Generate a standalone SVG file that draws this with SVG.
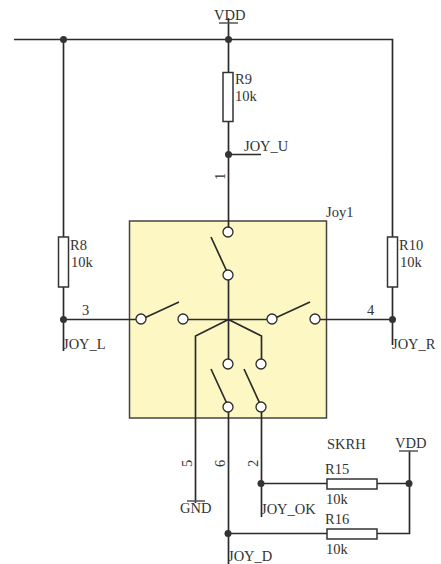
<svg xmlns="http://www.w3.org/2000/svg" width="441" height="564" viewBox="0 0 441 564">
<style>
.w{fill:none;stroke:#2b2b2b;stroke-width:1.7}
.t{fill:none;stroke:#555;stroke-width:1.3}
.r{fill:#fff;stroke:#333;stroke-width:1.5}
.c{fill:#fff;stroke:#2b2b2b;stroke-width:1.3}
.d{fill:#333}
text{font-family:"Liberation Serif",serif;font-size:14.500px;fill:#333}
</style>
<rect width="441" height="564" fill="#fff"/>
<g id="joy1">
<rect x="129.500" y="221" width="197" height="197" fill="#fdf7c3" stroke="#444" stroke-width="1.5"/>
<text x="326" y="217">Joy1</text>
</g>
<g id="connectors">
<path class="w" d="M14 39.500H392.500V345M63.500 39.500V351M228.500 39.500V232M228.500 18V39.500M228.500 154.500H261M63.500 319.500H136M320 319.500H392.500M228.500 275V364M188 319.500H267M228.500 319.500L195.500 336V503M228.500 319.500L261.500 336V359M228.500 412V564M261.500 412V517M261.500 483.500H331M377 483.500H409M409.500 483.500V451M228.500 533.500H331M377 533.500H409.500V483.500"/>
<path class="w" d="M228.500 275L211 237M141 319.500L179 302M272 319.500L310 302M228.500 407L211 369M261.500 407L244 369"/>
<path class="t" d="M219 23H238M399 451H418M187 501H205"/>
</g>
<g id="junctions">
<circle class="d" cx="63.500" cy="39.500" r="3.500"/><circle class="d" cx="228.500" cy="39.500" r="3.500"/><circle class="d" cx="228.500" cy="154.500" r="3.500"/><circle class="d" cx="63.500" cy="319.500" r="3.500"/><circle class="d" cx="392.500" cy="319.500" r="3.500"/><circle class="d" cx="261" cy="483.500" r="3.500"/><circle class="d" cx="409" cy="483.500" r="3.500"/><circle class="d" cx="228" cy="533.500" r="3.500"/>
</g>
<g id="contacts">
<circle class="c" cx="228" cy="232" r="5"/><circle class="c" cx="228" cy="275" r="5"/><circle class="c" cx="141" cy="319" r="5"/><circle class="c" cx="183" cy="319" r="5"/><circle class="c" cx="272" cy="319" r="5"/><circle class="c" cx="315" cy="319" r="5"/><circle class="c" cx="228" cy="364" r="5"/><circle class="c" cx="261" cy="364" r="5"/><circle class="c" cx="228" cy="407" r="5"/><circle class="c" cx="261" cy="407" r="5"/>
</g>
<g id="r9"><rect class="r" x="223" y="72.500" width="10" height="49"/><text x="235" y="84">R9</text><text x="235" y="101">10k</text></g>
<g id="r8"><rect class="r" x="58.500" y="237" width="10" height="50"/><text x="70" y="250">R8</text><text x="71" y="267">10k</text></g>
<g id="r10"><rect class="r" x="387.500" y="237" width="10" height="50"/><text x="399" y="250">R10</text><text x="400" y="267">10k</text></g>
<g id="r15"><rect class="r" x="327" y="479" width="50" height="10"/><text x="325" y="474">R15</text><text x="326" y="504">10k</text></g>
<g id="r16"><rect class="r" x="327" y="529" width="50" height="10"/><text x="325" y="524">R16</text><text x="326" y="554">10k</text></g>
<g id="labels">
<text x="214" y="20">VDD</text>
<text x="244" y="151">JOY_U</text>
<text x="63" y="349">JOY_L</text>
<text x="392" y="349">JOY_R</text>
<text x="261" y="514">JOY_OK</text>
<text x="228" y="561">JOY_D</text>
<text x="180" y="513">GND</text>
<text x="327" y="449">SKRH</text>
<text x="395" y="448">VDD</text>
<text x="82" y="315">3</text>
<text x="367" y="315">4</text>
<text transform="translate(225 180) rotate(-90)">1</text>
<text transform="translate(192 467) rotate(-90)">5</text>
<text transform="translate(225 467) rotate(-90)">6</text>
<text transform="translate(258 467) rotate(-90)">2</text>
</g>
</svg>
